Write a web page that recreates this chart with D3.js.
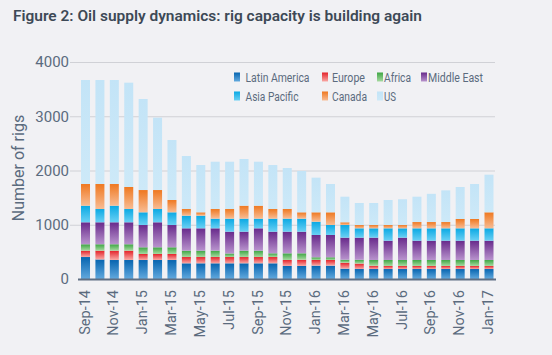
<!DOCTYPE html>
<html>
<head>
<meta charset="utf-8">
<script src="https://cdn.jsdelivr.net/npm/d3@7/dist/d3.min.js"></script>
<style>
  html, body { margin: 0; padding: 0; background: #f1f1f4; }
  svg { display: block; }
  text { font-family: Roboto, "Open Sans", sans-serif; }
</style>
</head>
<body>
<svg id="chart" width="552" height="355"></svg>
<script>
const months = ["Sep-14","Oct-14","Nov-14","Dec-14","Jan-15","Feb-15","Mar-15","Apr-15","May-15","Jun-15",
  "Jul-15","Aug-15","Sep-15","Oct-15","Nov-15","Dec-15","Jan-16","Feb-16","Mar-16","Apr-16",
  "May-16","Jun-16","Jul-16","Aug-16","Sep-16","Oct-16","Nov-16","Dec-16","Jan-17"];
const latinAmerica = [405,360,350,350,350,350,350,289,289,289,289,289,289,289,240,240,246,246,190,184,184,184,184,184,184,184,184,184,184];
const europe       = [117,162,172,172,111,111,111,116,116,116,116,116,116,116,110,115,104,104,110,100,60,56,56,56,56,56,56,56,56];
const africa       = [118,118,118,118,123,123,123,117,117,117,65,117,117,68,123,118,50,50,55,70,106,110,110,110,110,110,110,110,110];
const middleEast   = [405,405,405,405,411,461,411,412,412,412,402,350,412,399,399,399,411,411,407,408,412,356,412,356,356,356,356,356,356];
const asiaPacific  = [306,245,306,245,234,245,234,233,233,178,240,240,178,240,240,240,245,184,233,172,172,228,172,228,228,228,228,228,228];
const canada       = [400,461,400,406,411,350,227,123,62,178,178,239,239,178,178,117,173,234,50,61,61,61,61,116,116,116,172,172,295];
const us           = [1917,1917,1917,1923,1678,1334,1106,977,872,872,872,861,811,811,756,762,639,522,472,406,406,461,475,467,520,584,590,645,694];
const seriesNames  = ["Latin America","Europe","Africa","Middle East","Asia Pacific","Canada","US"];
const yTicks = [0,1000,2000,3000,4000];
const xTickLabels = months.filter((m,i) => i % 2 === 0);

const seriesData = [latinAmerica, europe, africa, middleEast, asiaPacific, canada, us];
const colors = [
  ["#0765b0","#62a9de"],
  ["#e4222a","#f9a9a5"],
  ["#3ea644","#a6d9a0"],
  ["#682a8b","#b893cd"],
  ["#0aa9e4","#6ad0f4"],
  ["#ef7820","#f8bc94"],
  ["#c3e4f7","#cde9f8"]
];

const svg = d3.select("#chart");
const defs = svg.append("defs");
colors.forEach((c, i) => {
  const g = defs.append("linearGradient").attr("id", "g" + i)
    .attr("x1", 0).attr("y1", 0).attr("x2", 0).attr("y2", 1);
  g.append("stop").attr("offset", "0%").attr("stop-color", c[0]);
  g.append("stop").attr("offset", "100%").attr("stop-color", c[1]);
});

const rows = months.map((m, i) => {
  const o = { month: m };
  seriesNames.forEach((s, k) => o[s] = seriesData[k][i]);
  return o;
});
const stack = d3.stack().keys(seriesNames)(rows);

const x = d3.scaleBand().domain(months).range([78.3, 496.2]).paddingInner(0.375).paddingOuter(0.1875);
const y = d3.scaleLinear().domain([0, 4000]).range([279, 62]);

function fitText(sel, target) {
  const w = sel.node().getComputedTextLength();
  if (Math.abs(w - target) > 1) sel.attr("textLength", target).attr("lengthAdjust", "spacingAndGlyphs");
}

// title
const title = svg.append("text").attr("x", 13).attr("y", 21)
  .attr("fill", "#3d4956").attr("font-size", 14.5).attr("font-weight", 600)
  .attr("font-family", "'Open Sans', sans-serif")
  .text("Figure 2: Oil supply dynamics: rig capacity is building again");
fitText(title, 409);

// gridlines
svg.append("g").selectAll("line").data(yTicks.filter(d => d > 0)).join("line")
  .attr("x1", 70).attr("x2", 495)
  .attr("y1", d => y(d) + 0.5).attr("y2", d => y(d) + 0.5)
  .attr("stroke", "#d0d1d6").attr("stroke-width", 1);

// y axis labels
const yAxis = d3.axisLeft(y).tickValues(yTicks).tickSize(0).tickPadding(0).tickFormat(d3.format("d"));
const gy = svg.append("g").attr("transform", "translate(69,0)").call(yAxis);
gy.select(".domain").remove();
gy.selectAll("text").attr("fill", "#5b6b7e").attr("font-size", 15).attr("font-family", "Roboto, sans-serif");

// y title
svg.append("text").attr("transform", "translate(24,168) rotate(-90)")
  .attr("text-anchor", "middle").attr("fill", "#5b6b7e").attr("font-size", 16)
  .text("Number of rigs");

// bars
svg.append("g").selectAll("g").data(stack).join("g")
  .attr("fill", (d, i) => "url(#g" + i + ")")
  .selectAll("rect").data(d => d).join("rect")
  .attr("x", d => x(d.data.month))
  .attr("width", x.bandwidth())
  .attr("y", d => y(d[1]))
  .attr("height", d => y(d[0]) - y(d[1]));

// baseline
svg.append("line").attr("x1", 78).attr("x2", 496).attr("y1", 279.5).attr("y2", 279.5)
  .attr("stroke", "#5f6f83").attr("stroke-width", 2);

// x axis labels
const xAxis = d3.axisBottom(x).tickValues(xTickLabels).tickSize(0).tickPadding(0);
const gx = svg.append("g").attr("transform", "translate(0,290)").call(xAxis);
gx.select(".domain").remove();
gx.selectAll("text")
  .attr("fill", "#5b6b7e").attr("font-size", 14.5).attr("font-family", "Roboto, sans-serif")
  .attr("text-anchor", "end")
  .attr("transform", "rotate(-90)")
  .attr("x", 0).attr("y", 0).attr("dy", "0.35em");
gx.selectAll(".tick").attr("transform", d => "translate(" + (x(d) + x.bandwidth() / 2 - 1) + ",0)");

// legend
const legendItems = [
  { name: "Latin America", sx: 234, tx: 245.5, y: 77, w: 64, k: 0 },
  { name: "Europe", sx: 322, tx: 332, y: 77, w: 33, k: 1 },
  { name: "Africa", sx: 377, tx: 384, y: 77, w: 27, k: 2 },
  { name: "Middle East", sx: 421, tx: 428, y: 77, w: 55, k: 3 },
  { name: "Asia Pacific", sx: 234, tx: 245.5, y: 96, w: 53, k: 4 },
  { name: "Canada", sx: 322, tx: 332, y: 96, w: 35, k: 5 },
  { name: "US", sx: 377, tx: 384, y: 96, w: 12, k: 6 }
];
const lg = svg.append("g");
legendItems.forEach(it => {
  lg.append("rect").attr("x", it.sx).attr("y", it.y - 4.5).attr("width", 6).attr("height", 9)
    .attr("fill", "url(#g" + it.k + ")");
  const t = lg.append("text").attr("x", it.tx).attr("y", it.y).attr("dy", "0.36em")
    .attr("fill", "#5b6b7e").attr("font-size", 12.5).text(it.name);
  fitText(t, it.w);
});
</script>
</body>
</html>
